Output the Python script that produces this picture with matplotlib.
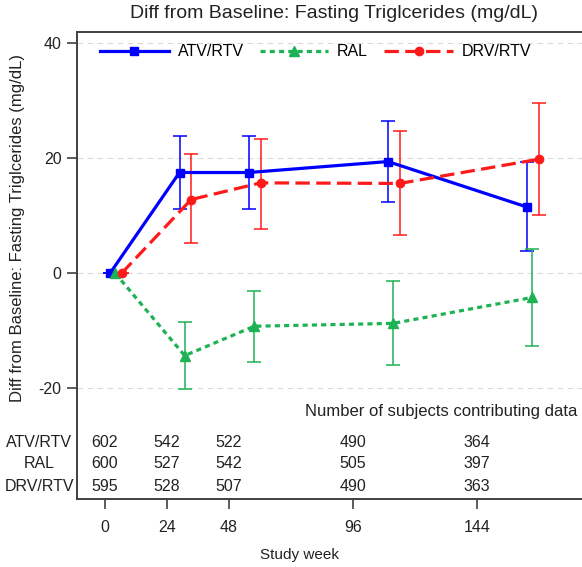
import numpy as np
import matplotlib.pyplot as plt
from matplotlib import transforms

plt.rcParams['font.family'] = ['Liberation Sans', 'DejaVu Sans']
plt.rcParams['axes.unicode_minus'] = False

weeks = [0, 24, 48, 96, 144]
groups = ['ATV/RTV', 'RAL', 'DRV/RTV']

atv_mean = [0, 17.5, 17.5, 19.4, 11.5]
atv_lo = [0, 11.2, 11.2, 12.3, 3.8]
atv_hi = [0, 23.9, 23.9, 26.4, 19.4]

ral_mean = [0, -14.3, -9.2, -8.7, -4.2]
ral_lo = [0, -20.1, -15.4, -16.0, -12.6]
ral_hi = [0, -8.5, -3.1, -1.4, 4.2]

drv_mean = [0, 12.8, 15.7, 15.6, 19.8]
drv_lo = [0, 5.3, 7.7, 6.6, 10.1]
drv_hi = [0, 20.7, 23.3, 24.7, 29.6]

n_atv = [602, 542, 522, 490, 364]
n_ral = [600, 527, 542, 505, 397]
n_drv = [595, 528, 507, 490, 363]

# plot styles
colors = ['#0000FF', '#1DB254', '#FF1A1A']
markers = ['s', '^', 'o']
msizes = [5.5, 6.5, 6]
dashes = [(None, None), (1.6, 1.3), (4.5, 2.0)]
offsets = [0, 1.8, 4.0]

fig = plt.figure(figsize=(5.82, 5.67), dpi=100)
ax = fig.add_axes([77/582, 68/567, 1 - 77/582, 467/567])

means = [atv_mean, ral_mean, drv_mean]
los = [atv_lo, ral_lo, drv_lo]
his = [atv_hi, ral_hi, drv_hi]

for i in range(3):
    x = np.array(weeks) + offsets[i]
    m = np.array(means[i])
    err = [m - np.array(los[i]), np.array(his[i]) - m]
    ax.errorbar(x, m, yerr=err, fmt='none', ecolor=colors[i],
                elinewidth=1.1, capsize=5, capthick=1.1, zorder=2)
    ln, = ax.plot(x, m, color=colors[i], lw=2.3, marker=markers[i],
                  ms=msizes[i], label=groups[i], zorder=3)
    if dashes[i][0] is not None:
        ln.set_dashes(dashes[i])

ax.set_xlim(-11.4, 163.0)
ax.set_ylim(-39.2, 41.9)
ax.set_yticks([-20, 0, 20, 40])
ax.set_xticks([])
ax.grid(axis='y', color='#dadada', linestyle=(0, (5, 4)), lw=0.8)
ax.set_axisbelow(True)

for s in ['left', 'top', 'bottom']:
    ax.spines[s].set_color('#404040')
    ax.spines[s].set_linewidth(1.4)
ax.spines['right'].set_visible(False)
ax.tick_params(axis='y', direction='out', length=7, width=1.2,
               color='#404040', labelsize=11.5, pad=4, labelcolor='#222222')

# tick axis for weeks and table
axt = ax.twiny()
axt.set_xlim(-10.84, 184.7)
axt.xaxis.set_ticks_position('bottom')
axt.xaxis.set_label_position('bottom')
axt.set_xticks(weeks)
axt.set_xticklabels([str(w) for w in weeks])
axt.tick_params(axis='x', direction='out', length=7, width=1.2,
                color='#404040', labelsize=11.5, pad=8, labelcolor='#222222')
for s in axt.spines.values():
    s.set_visible(False)

trans = transforms.blended_transform_factory(axt.transData, axt.transAxes)
rows_y = [0.120, 0.075, 0.0257]
for vals, yy in zip([n_atv, n_ral, n_drv], rows_y):
    for w, v in zip(weeks, vals):
        axt.text(w, yy, str(v), transform=trans, ha='center', va='center',
                 fontsize=11.5, color='#222222')

tl = transforms.blended_transform_factory(fig.transFigure, axt.transAxes)
for g, yy in zip(groups, rows_y):
    axt.text(39/582, yy, g, transform=tl, ha='center', va='center',
             fontsize=11.5, color='#222222')

axt.text(0.99, 0.188, 'Number of subjects contributing data',
         transform=axt.transAxes, ha='right', va='center',
         fontsize=12, color='#222222')

leg = ax.legend(loc='upper left', bbox_to_anchor=(0.0455, 0.974), ncol=3,
                frameon=False, fontsize=11.5, handlelength=4.3,
                columnspacing=1.0, handletextpad=0.56, borderaxespad=0,
                borderpad=0)

fig.text(334/582, 1 - 14/567, 'Diff from Baseline: Fasting Triglcerides (mg/dL)',
         ha='center', va='center', fontsize=14, color='#222222')
fig.text(18/582, 1 - 228/567, 'Diff from Baseline: Fasting Triglcerides (mg/dL)',
         ha='center', va='center', rotation=90, fontsize=12, color='#222222')
fig.text(299/582, 1 - 555/567, 'Study week', ha='center', va='center',
         fontsize=11, color='#222222')

fig.savefig('out.png', dpi=100)
